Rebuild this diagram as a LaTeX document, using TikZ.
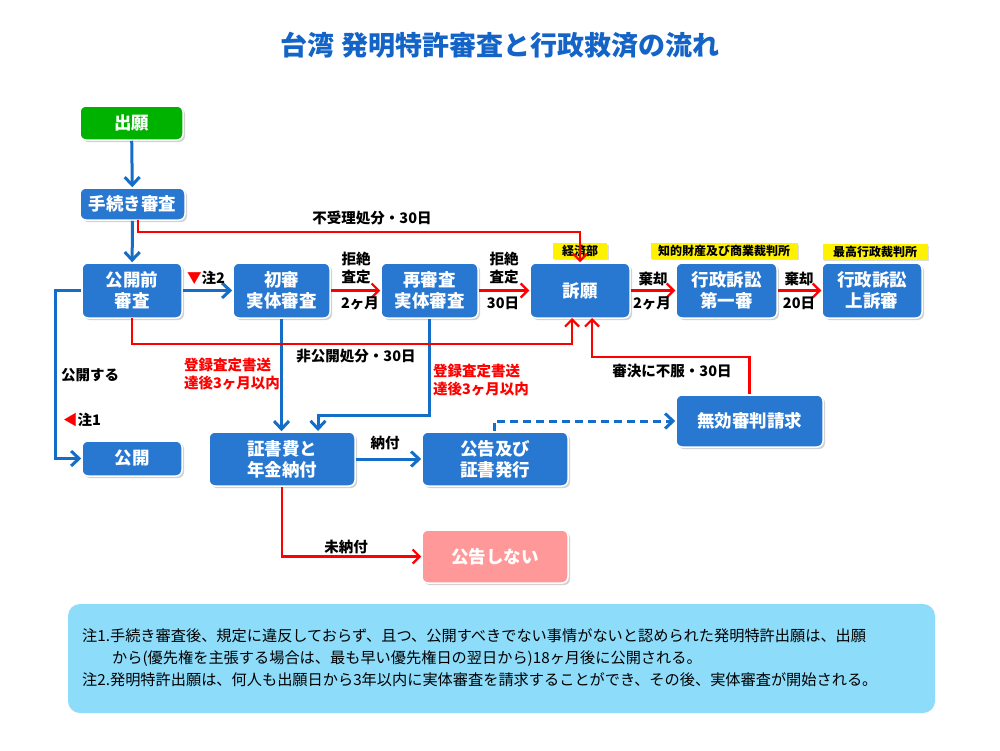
\documentclass[tikz,border=0pt]{standalone}
\usepackage{fontspec}
\setmainfont{Noto Sans CJK JP}
\usetikzlibrary{shadows}
\usetikzlibrary{arrows.meta}
\definecolor{boxblue}{RGB}{40,120,210}
\definecolor{lineblue}{RGB}{20,110,200}
\definecolor{titleblue}{RGB}{20,100,200}
\definecolor{notebg}{RGB}{140,220,250}
\tikzset{
  box/.style={draw=white, line width=1.5pt, fill=boxblue, rounded corners=6pt, text=white,
    font=\fontsize{17.5}{21}\selectfont\bfseries, align=center, inner sep=0pt,
    drop shadow={shadow xshift=2pt, shadow yshift=-2pt, fill=black!35}},
  tag/.style={fill=yellow, font=\fontsize{12}{13}\selectfont\bfseries, inner sep=2pt,
    minimum height=14pt, drop shadow={shadow xshift=1.5pt, shadow yshift=-1.5pt, fill=black!25}},
  lbl/.style={font=\fontsize{14.5}{18}\selectfont\bfseries, align=left, inner sep=0pt},
  rlbl/.style={lbl, text=red},
  bar/.style={-{Straight Barb[length=8pt,width=15pt,line width=3pt]}, line width=3pt, color=lineblue},
  rar/.style={-{Straight Barb[length=7pt,width=14pt,line width=2.2pt]}, line width=2.2pt, color=red}
}
\begin{document}
\begin{tikzpicture}[x=1pt,y=-1pt]
\useasboundingbox (0,0) rectangle (1000,750);
\fill[white] (0,0) rectangle (1000,750);

% title
\node[text=titleblue, font=\fontsize{27}{32}\selectfont\bfseries] (title) at (500,45) {台湾 発明特許審査と行政救済の流れ};

% boxes
\node[box, fill=green!70!black, minimum width=103pt, minimum height=34pt] (apply) at (131.5,123) {出願};
\node[box, minimum width=105pt, minimum height=32pt] (formal) at (132.5,204) {手続き審査};
\node[box, minimum width=100pt, minimum height=55pt] (prepub) at (132,290.5) {公開前\\審査};
\node[box, minimum width=97pt, minimum height=55pt] (first) at (281.5,290.5) {初審\\実体審査};
\node[box, minimum width=97pt, minimum height=55pt] (second) at (429.5,290.5) {再審査\\実体審査};
\node[box, minimum width=100pt, minimum height=55pt] (appeal) at (580,290.5) {訴願};
\node[box, minimum width=101pt, minimum height=55pt] (court1) at (726.5,290.5) {行政訴訟\\第一審};
\node[box, minimum width=100pt, minimum height=55pt] (court2) at (872,290.5) {行政訴訟\\上訴審};
\node[box, minimum width=100pt, minimum height=35pt] (pub) at (132,458.5) {公開};
\node[box, minimum width=146pt, minimum height=54pt] (fee) at (282,459) {証書費と\\年金納付};
\node[box, minimum width=146pt, minimum height=54pt] (grant) at (495,459) {公告及び\\証書発行};
\node[box, minimum width=147pt, minimum height=52pt] (invalid) at (749.5,421) {無効審判請求};
\node[box, fill=red!40, minimum width=146pt, minimum height=53pt] (nogrant) at (495,556.5) {公告しない};

% tags
\node[tag, minimum width=54pt] (tagA) at (580,251) {経済部};
\node[tag, minimum width=147pt] (tagB) at (724,251) {知的財産及び商業裁判所};
\node[tag, minimum width=105pt] (tagC) at (875,252) {最高行政裁判所};

% blue flow
\draw[bar] (apply) -- (formal);
\draw[bar] (formal) -- (prepub);
\draw[bar] (prepub) -- (first);
\draw[bar] (prepub.west) -| (55,458.5) -- (pub.west);
\draw[bar] (first.south) -- (first.south |- fee.north);
\draw[bar] (second.south) |- (318,415) -- (318,431);
\draw[bar] (fee) -- (grant);
\draw[bar, dash pattern=on 8pt off 5pt] (494,431) |- (invalid.west);

% red flow
\draw[rar] (138,220) |- (580,232) -- (appeal.north);
\draw[rar] (first) -- (second);
\draw[rar] (second) -- (appeal);
\draw[rar] (appeal) -- (court1);
\draw[rar] (court1) -- (court2);
\draw[rar] (132,318) |- (572,344) -- (572,318);
\draw[rar] (invalid.north) |- (592,357) -- (592,318);
\draw[rar] (fee.south) |- (nogrant.west);

% labels
\node[lbl] (l1) at (372,218) {不受理処分・30日};
\node[lbl] (l2) at (356,268) {拒絶\\査定};
\node[lbl] (l3) at (360,303) {2ヶ月};
\node[lbl] (l4) at (504,268) {拒絶\\査定};
\node[lbl] (l5) at (503,303) {30日};
\node[lbl] (l6) at (653,279) {棄却};
\node[lbl] (l7) at (652,303) {2ヶ月};
\node[lbl] (l8) at (799,279) {棄却};
\node[lbl] (l9) at (799,303) {20日};
\node[lbl] (l10) at (356,356) {非公開処分・30日};
\node[lbl] (l11) at (672,371) {審決に不服・30日};
\node[lbl] (l12) at (90,375) {公開する};
\node[lbl] (l13) at (385,443) {納付};
\node[lbl] (l14) at (346,547) {未納付};
\node[rlbl] (l15) at (232,374) {登録査定書送\\達後3ヶ月以内};
\node[rlbl] (l16) at (481,380) {登録査定書送\\達後3ヶ月以内};
\node[lbl] (n2) at (206,278) {\textcolor{red}{▼}注2};
\node[lbl] (n1) at (82,420) {\textcolor{red}{◀}注1};

% notes
\fill[notebg, rounded corners=12pt] (68,604) rectangle (935,713);
\node[anchor=north west, font=\fontsize{15.2}{22}\selectfont, align=left, inner sep=0pt] (notes) at (82,628) {%
注1.手続き審査後、規定に違反しておらず、且つ、公開すべきでない事情がないと認められた発明特許出願は、出願\\
\hspace*{30pt}から(優先権を主張する場合は、最も早い優先権日の翌日から)18ヶ月後に公開される。\\
注2.発明特許出願は、何人も出願日から3年以内に実体審査を請求することができ、その後、実体審査が開始される。};
\end{tikzpicture}
\end{document}
